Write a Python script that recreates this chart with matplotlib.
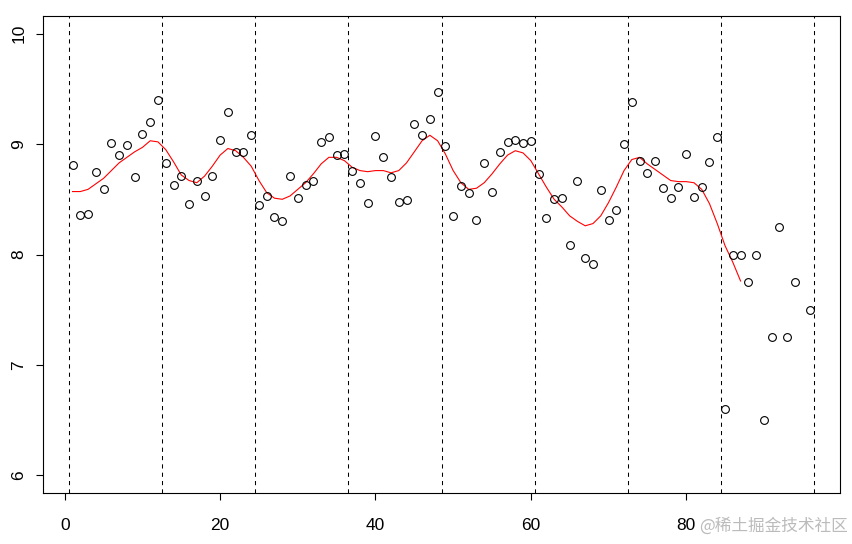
import numpy as np
import matplotlib
matplotlib.use("Agg")
import matplotlib.pyplot as plt

# observed values, one per month (index 1..96), month 95 missing
obs_x = np.arange(1, 97)
obs_y = [8.81, 8.36, 8.37, 8.75, 8.59, 9.01, 8.90, 8.99, 8.70, 9.09, 9.20, 9.40,
         8.83, 8.63, 8.71, 8.46, 8.67, 8.53, 8.71, 9.04, 9.29, 8.93, 8.93, 9.08,
         8.45, 8.53, 8.34, 8.30, 8.71, 8.51, 8.63, 8.67, 9.02, 9.06, 8.90, 8.91,
         8.76, 8.65, 8.47, 9.07, 8.88, 8.70, 8.48, 8.49, 9.18, 9.08, 9.23, 9.47,
         8.98, 8.35, 8.62, 8.56, 8.31, 8.83, 8.57, 8.93, 9.02, 9.04, 9.01, 9.03,
         8.73, 8.33, 8.50, 8.51, 8.09, 8.67, 7.97, 7.91, 8.58, 8.31, 8.40, 9.00,
         9.38, 8.85, 8.74, 8.85, 8.60, 8.51, 8.61, 8.91, 8.52, 8.61, 8.84, 9.06,
         6.60, 8.00, 8.00, 7.75, 8.00, 6.50, 7.25, 8.25, 7.25, 7.75, np.nan, 7.50]

# smoothed fit (red line), read at each index 1..87
fit_x = np.arange(1, 88)
fit_y = [8.57, 8.57, 8.59, 8.64, 8.69, 8.76, 8.83, 8.88, 8.93, 8.97, 9.03, 9.02,
         8.95, 8.84, 8.72, 8.67, 8.65, 8.71, 8.80, 8.90, 8.96, 8.94, 8.88, 8.80,
         8.67, 8.56, 8.51, 8.50, 8.53, 8.59, 8.65, 8.73, 8.82, 8.88, 8.88, 8.85,
         8.79, 8.76, 8.75, 8.76, 8.76, 8.74, 8.76, 8.83, 8.93, 9.03, 9.08, 9.03,
         8.91, 8.76, 8.65, 8.59, 8.60, 8.65, 8.73, 8.82, 8.90, 8.94, 8.92, 8.85,
         8.73, 8.61, 8.50, 8.43, 8.35, 8.30, 8.26, 8.28, 8.35, 8.47, 8.61, 8.76,
         8.86, 8.88, 8.82, 8.77, 8.72, 8.67, 8.66, 8.66, 8.65, 8.59, 8.46, 8.28,
         8.08, 7.93, 7.76]

# year boundaries
breaks = [0.5, 12.5, 24.5, 36.5, 48.5, 60.5, 72.5, 84.5, 96.5]

x_ticks = [0, 20, 40, 60, 80]
y_ticks = [6, 7, 8, 9, 10]

plt.rcParams['font.family'] = ['Liberation Sans', 'DejaVu Sans']

fig = plt.figure(figsize=(8.52, 5.44), dpi=100)
ax = fig.add_axes([43/852, 1 - 493/544, (840 - 43)/852, (493 - 16)/544])

ax.plot(obs_x, obs_y, 'o', mfc='none', mec='black', ms=5.6, mew=0.8, zorder=3)
ax.plot(fit_x, fit_y, color='red', lw=0.8, zorder=2)
for b in breaks:
    ax.axvline(b, color='black', lw=0.75, linestyle=(0, (4, 4)), zorder=1)

ax.set_xlim(-2.8, 99.8)
ax.set_ylim(5.84, 10.16)
ax.set_xticks(x_ticks)
ax.set_yticks(y_ticks)
ax.tick_params(direction='out', length=5, width=0.8, labelsize=12.5)
ax.tick_params(axis='x', pad=13)
ax.tick_params(axis='y', labelrotation=90, pad=7)
for lab in ax.get_yticklabels():
    lab.set_va('center')
for s in ax.spines.values():
    s.set_linewidth(0.8)

fig.text(848/852, 1 - 526/544, '@稀土掘金技术社区', ha='right', va='center',
         fontsize=12, color='#bbbbbb',
         family=['Noto Sans CJK SC', 'DejaVu Sans'])

fig.savefig('out.png', dpi=100)
